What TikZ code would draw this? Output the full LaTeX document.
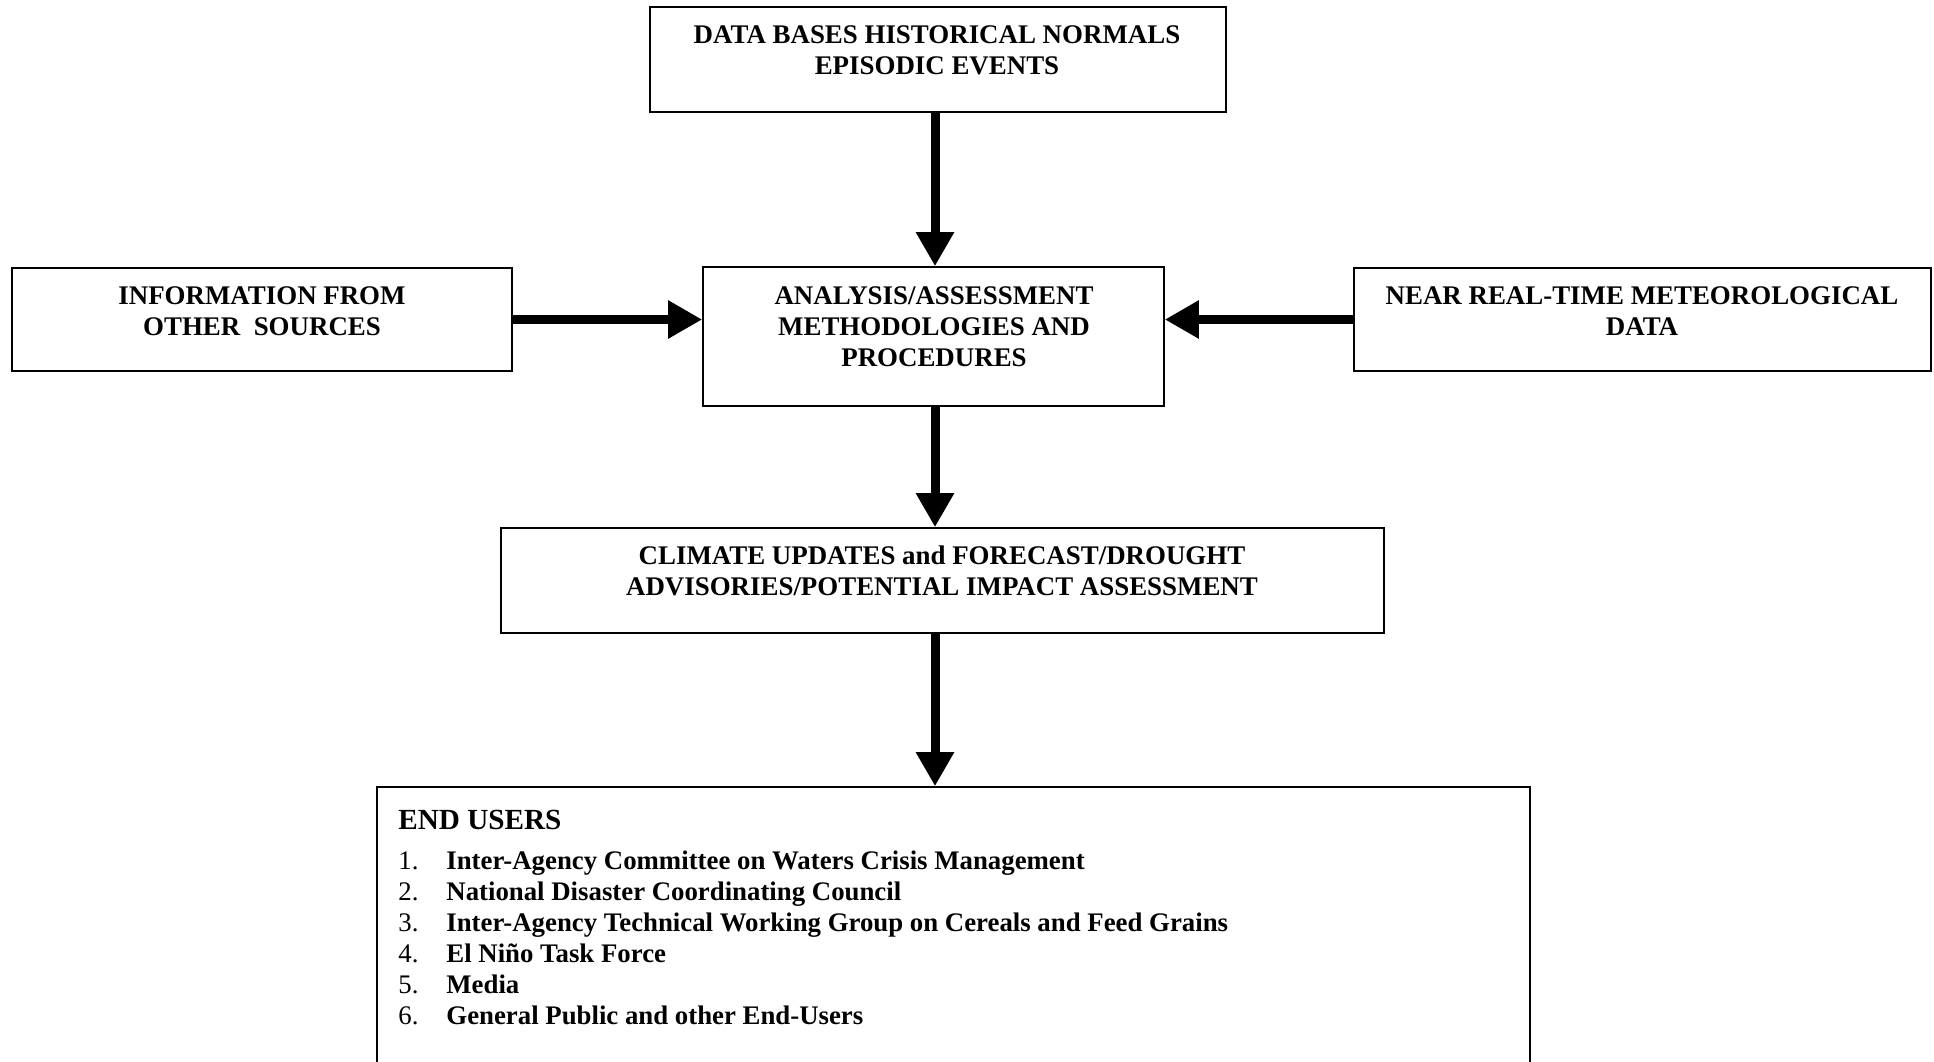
\documentclass[tikz,border=0pt]{standalone}
\usepackage{fontspec}
\setmainfont{Liberation Serif}
\usetikzlibrary{arrows.meta}
\begin{document}
\begin{tikzpicture}[x=0.5pt,y=-0.5pt,
  box/.style={draw, line width=0.8pt, inner sep=0pt},
  txt/.style={font=\fontsize{13.45}{15.5}\selectfont\bfseries, align=center, inner sep=0pt},
  flow/.style={line width=4.5pt, -{Triangle[width=18pt,length=17pt]}}]
\clip (0,0) rectangle (1934,1061);
\fill[white] (0,0) rectangle (1934,1061);
% boxes
\node[box, minimum width=288pt, minimum height=52.5pt] (db) at (938,59.5) {};
\node[box, minimum width=230.5pt, minimum height=69.5pt] (ana) at (933.5,336.5) {};
\node[box, minimum width=250pt, minimum height=51.5pt] (info) at (262,319.5) {};
\node[box, minimum width=288.5pt, minimum height=51.5pt] (near) at (1642.5,319.5) {};
\node[box, minimum width=441.5pt, minimum height=52.5pt] (clim) at (942.5,580.5) {};
\node[box, minimum width=576.5pt, minimum height=156.5pt] (end) at (953.5,943.5) {};
% texts
\node[txt] (dbt) at (937,50) {DATA BASES HISTORICAL NORMALS\\EPISODIC EVENTS};
\node[txt] (infot) at (262,311) {INFORMATION FROM\\OTHER\ \ SOURCES};
\node[txt] (anat) at (934,327) {ANALYSIS/ASSESSMENT\\METHODOLOGIES AND\\PROCEDURES};
\node[txt] (neart) at (1642,311) {NEAR REAL-TIME METEOROLOGICAL\\DATA};
\node[txt] (climt) at (942,571) {CLIMATE UPDATES and FORECAST/DROUGHT\\ADVISORIES/POTENTIAL IMPACT ASSESSMENT};
\node[txt, anchor=west, font=\fontsize{14.6}{17}\selectfont\bfseries] (eut) at (398,820) {END USERS};
\node[anchor=north west, inner sep=0pt, font=\fontsize{13.4}{15.5}\selectfont] (list) at (398,847) {%
\begin{tabular}{@{}p{24pt}@{}l@{}}
1. & \textbf{Inter-Agency Committee on Waters Crisis Management}\\
2. & \textbf{National Disaster Coordinating Council}\\
3. & \textbf{Inter-Agency Technical Working Group on Cereals and Feed Grains}\\
4. & \textbf{El Niño Task Force}\\
5. & \textbf{Media}\\
6. & \textbf{General Public and other End-Users}
\end{tabular}};
% connectors
\coordinate (ax) at (935,0);
\draw[flow] (db.south -| ax) -- (ana.north -| ax);
\draw[flow] (info.east) -- (info.east -| ana.west);
\draw[flow] (near.west) -- (near.west -| ana.east);
\draw[flow] (ana.south -| ax) -- (clim.north -| ax);
\draw[flow] (clim.south -| ax) -- (end.north -| ax);
\end{tikzpicture}
\end{document}
